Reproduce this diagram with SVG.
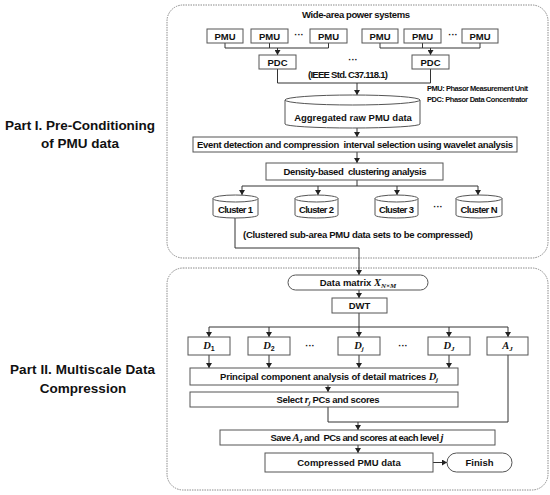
<svg xmlns="http://www.w3.org/2000/svg" width="550" height="495" viewBox="0 0 550 495">
<style>
.t{font-family:"Liberation Sans",Arial,sans-serif;font-weight:bold;font-size:9.5px;text-anchor:middle;fill:#111}
.big{font-size:13.5px}
.sm{font-size:7.5px;text-anchor:start}
.m{font-family:"Liberation Serif","Times New Roman",serif;font-style:italic;font-weight:bold}
.b{fill:#fff;stroke:#555;stroke-width:1}
.part{fill:none;stroke:#8a8a8a;stroke-width:1;stroke-dasharray:1.5 1}
.c{fill:none;stroke:#333;stroke-width:1}
.a{marker-end:url(#ah)}
</style>
<defs>
<marker id="ah" markerWidth="5" markerHeight="6" refX="5" refY="3" orient="auto" markerUnits="userSpaceOnUse">
<path d="M0,0 L5,3 L0,6 z" fill="#222"/>
</marker>
</defs>
<rect width="550" height="495" fill="#fff"/>

<g id="part1">
<rect class="part" x="167" y="5" width="381" height="253" rx="16"/>
<text class="t big" x="80" y="130" textLength="150">Part I. Pre-Conditioning</text>
<text class="t big" x="80" y="148">of PMU data</text>
</g>
<g id="part2">
<rect class="part" x="167" y="268" width="381" height="222" rx="16"/>
<text class="t big" x="82.5" y="374" textLength="145">Part II. Multiscale Data</text>
<text class="t big" x="83" y="393">Compression</text>
</g>

<g id="connectors">
<path class="c" d="M225,43 V48 H328.5 V43 M269.5,43 V48"/>
<path class="c a" d="M277.5,48 V55"/>
<path class="c" d="M380,43 V48 H480 V43 M422.5,43 V48"/>
<path class="c a" d="M430.5,48 V55"/>
<path class="c" d="M277.5,69 V83 H430.5 V69"/>
<path class="c a" d="M357,83 V95"/>
<path class="c a" d="M357,128 V137"/>
<path class="c a" d="M357,152 V163"/>
<path class="c" d="M357,180 V186 M242,186 H478"/>
<path class="c a" d="M242,186 V195"/>
<path class="c a" d="M318,186 V195"/>
<path class="c a" d="M397,186 V195"/>
<path class="c a" d="M478,186 V195"/>
<path class="c a" d="M235,218 V248 H359 V275"/>
<path class="c a" d="M359,290 V298"/>
<path class="c" d="M359,313 V327 M209,327 H508"/>
<path class="c a" d="M209,327 V337"/>
<path class="c a" d="M269,327 V337"/>
<path class="c a" d="M359,327 V337"/>
<path class="c a" d="M449,327 V337"/>
<path class="c a" d="M508,327 V337"/>
<path class="c a" d="M209,355 V368"/>
<path class="c a" d="M269,355 V368"/>
<path class="c a" d="M359,355 V368"/>
<path class="c a" d="M449,355 V368"/>
<path class="c a" d="M328,385 V392"/>
<path class="c" d="M328,407 V422 H508 V355"/>
<path class="c a" d="M358,422 V430"/>
<path class="c a" d="M358,445 V453"/>
<path class="c a" d="M433,462.5 H447"/>
</g>

<g id="title"><text class="t" x="356" y="18" font-size="10" textLength="108">Wide-area power systems</text></g>

<g id="pmu1"><rect class="b" x="207" y="29" width="36" height="14"/><text class="t" x="225" y="39.5">PMU</text></g>
<g id="pmu2"><rect class="b" x="251" y="29" width="37" height="14"/><text class="t" x="269.5" y="39.5">PMU</text></g>
<g id="pmu3"><rect class="b" x="310" y="29" width="37" height="14"/><text class="t" x="328.5" y="39.5">PMU</text></g>
<g id="pmu4"><rect class="b" x="362" y="29" width="36" height="14"/><text class="t" x="380" y="39.5">PMU</text></g>
<g id="pmu5"><rect class="b" x="404" y="29" width="37" height="14"/><text class="t" x="422.5" y="39.5">PMU</text></g>
<g id="pmu6"><rect class="b" x="462" y="29" width="36" height="14"/><text class="t" x="480" y="39.5">PMU</text></g>
<g id="dots1"><text class="t" x="299" y="38">···</text><text class="t" x="453" y="38">···</text></g>

<g id="pdc1"><rect class="b" x="259" y="55" width="37" height="14"/><text class="t" x="277.5" y="65.5">PDC</text></g>
<g id="pdc2"><rect class="b" x="412" y="55" width="37" height="14"/><text class="t" x="430.5" y="65.5">PDC</text></g>
<g id="ieee"><text class="t" x="353" y="63">···</text><text class="t" x="348" y="77.5" textLength="80">(IEEE Std. C37.118.1)</text></g>

<g id="legend">
<text class="t sm" x="427" y="91" textLength="101">PMU: Phasor Measurement Unit</text>
<text class="t sm" x="427" y="102" textLength="101">PDC: Phasor Data Concentrator</text>
</g>

<g id="raw">
<path class="b" d="M285,100 V124 A67.5,4 0 0 0 420,124 V100"/>
<ellipse class="b" cx="352.5" cy="100" rx="67.5" ry="5"/>
<text class="t" x="353" y="120.5" font-size="8.5">Aggregated raw PMU data</text>
</g>

<g id="event"><rect class="b" x="193" y="137" width="324" height="15"/><text class="t" x="355" y="148" textLength="316" xml:space="preserve">Event detection and compression  interval selection using wavelet analysis</text></g>
<g id="density"><rect class="b" x="266" y="163" width="177" height="17"/><text class="t" x="355" y="175" textLength="143" xml:space="preserve">Density-based  clustering analysis</text></g>

<g id="cluster1"><path class="b" d="M213,198.5 V215 A22.5,3 0 0 0 258,215 V198.5"/><ellipse class="b" cx="235.5" cy="198.5" rx="22.5" ry="3.5"/><text class="t" x="235.5" y="213" textLength="35">Cluster 1</text></g>
<g id="cluster2"><path class="b" d="M295,198.5 V215 A21.5,3 0 0 0 338,215 V198.5"/><ellipse class="b" cx="316.5" cy="198.5" rx="21.5" ry="3.5"/><text class="t" x="316.5" y="213" textLength="35">Cluster 2</text></g>
<g id="cluster3"><path class="b" d="M375,198.5 V215 A21.5,3 0 0 0 418,215 V198.5"/><ellipse class="b" cx="396.5" cy="198.5" rx="21.5" ry="3.5"/><text class="t" x="396.5" y="213" textLength="35">Cluster 3</text></g>
<g id="clusterN"><path class="b" d="M456,198.5 V215 A23,3 0 0 0 502,215 V198.5"/><ellipse class="b" cx="479" cy="198.5" rx="23" ry="3.5"/><text class="t" x="479" y="213" textLength="37">Cluster N</text></g>
<g id="dots2"><text class="t" x="438" y="210">···</text></g>
<g id="clnote"><text class="t" x="358" y="238" textLength="230">(Clustered sub-area PMU data sets to be compressed)</text></g>

<g id="matrix"><rect class="b" x="288" y="275" width="140" height="15" rx="7.5"/><text class="t" x="358" y="286">Data matrix <tspan class="m" font-size="10.5">X</tspan><tspan class="m" font-size="7" dy="2">N×M</tspan></text></g>
<g id="dwt"><rect class="b" x="332" y="298" width="55" height="15"/><text class="t" x="359.5" y="309">DWT</text></g>

<g id="d1"><rect class="b" x="188" y="337" width="42" height="18"/><text class="t" x="209" y="349"><tspan class="m" font-size="10.5">D</tspan><tspan font-size="7" dy="2">1</tspan></text></g>
<g id="d2"><rect class="b" x="248" y="337" width="42" height="18"/><text class="t" x="269" y="349"><tspan class="m" font-size="10.5">D</tspan><tspan font-size="7" dy="2">2</tspan></text></g>
<g id="dj"><rect class="b" x="338" y="337" width="42" height="18"/><text class="t" x="359" y="349"><tspan class="m" font-size="10.5">D</tspan><tspan class="m" font-size="7" dy="2">j</tspan></text></g>
<g id="dJ"><rect class="b" x="428" y="337" width="42" height="18"/><text class="t" x="449" y="349"><tspan class="m" font-size="10.5">D</tspan><tspan class="m" font-size="7" dy="2">J</tspan></text></g>
<g id="aJ"><rect class="b" x="487" y="337" width="41" height="18"/><text class="t" x="507.5" y="349"><tspan class="m" font-size="10.5">A</tspan><tspan class="m" font-size="7" dy="2">J</tspan></text></g>
<g id="dots3"><text class="t" x="310" y="349">···</text><text class="t" x="403" y="349">···</text></g>

<g id="pca"><rect class="b" x="190" y="368" width="268" height="17"/><text class="t" x="329" y="380" textLength="218">Principal component analysis of detail matrices <tspan class="m" font-size="10.5">D</tspan><tspan class="m" font-size="7" dy="2">j</tspan></text></g>
<g id="select"><rect class="b" x="190" y="392" width="268" height="15"/><text class="t" x="328" y="403" textLength="103">Select <tspan class="m" font-size="10.5">r</tspan><tspan class="m" font-size="7" dy="2">j</tspan><tspan dy="-2"> PCs and scores</tspan></text></g>
<g id="save"><rect class="b" x="220" y="430" width="275" height="15"/><text class="t" x="357" y="441" textLength="173" xml:space="preserve">Save <tspan class="m" font-size="10.5">A</tspan><tspan class="m" font-size="7" dy="2">J</tspan><tspan dy="-2"> and  PCs and scores at each level </tspan><tspan class="m" font-size="10.5">j</tspan></text></g>
<g id="compressed"><rect class="b" x="265" y="453" width="168" height="19"/><text class="t" x="349" y="466">Compressed PMU data</text></g>
<g id="finish"><rect class="b" x="447" y="453" width="65" height="19" rx="9.5"/><text class="t" x="479.5" y="466">Finish</text></g>
</svg>
